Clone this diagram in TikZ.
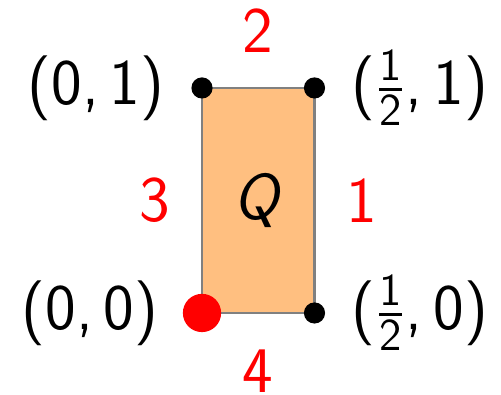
\documentclass[tikz,border=0pt]{standalone}
\usepackage{amsmath}
\usetikzlibrary{positioning}

\tikzset{
  corner/.style={inner sep=0pt},
  side/.style={red, inner sep=0pt}
}
\newcommand{\half}{$\frac{\text{1}}{\text{2}}$}

\begin{document}
\begin{tikzpicture}[scale=2.25, font=\fontsize{18.5}{22}\selectfont\sffamily]
\useasboundingbox (-0.8978,-0.3644) rectangle (1.3289,1.3911);
% Corners of the rectangle and the midpoints of its sides
\coordinate (A) at (0,0);
\coordinate (B) at (0.5,0);
\coordinate (C) at (0.5,1);
\coordinate (D) at (0,1);
\coordinate (right) at (0.5,0.5);
\coordinate (top) at (0.25,1);
\coordinate (left) at (0,0.5);
\coordinate (bottom) at (0.25,0);

% The filled rectangle Q
\draw[gray, line width=0.6pt, fill=orange!50] (A) rectangle (C);
\node (Q) at (0.25,0.5) {\textit{Q}};

% Corner points, the origin in red
\fill[black] (B) circle [radius=0.047cm];
\fill[black] (C) circle [radius=0.047cm];
\fill[black] (D) circle [radius=0.047cm];
\fill[red] (A) circle [radius=0.085cm];

% Label the corners
\node[corner, left=0.43cm of A] (lA) {(0,\,0)};
\node[corner, right=0.36cm of B] (lB) {(\half,\,0)};
\node[corner, right=0.36cm of C] (lC) {(\half,\,1)};
\node[corner, left=0.37cm of D] (lD) {(0,\,1)};

% Number the sides
\node[side, right=0.31cm of right] (s1) {1};
\node[side, above=0.35cm of top] (s2) {2};
\node[side, left=0.31cm of left] (s3) {3};
\node[side, below=0.36cm of bottom] (s4) {4};
\end{tikzpicture}
\end{document}
